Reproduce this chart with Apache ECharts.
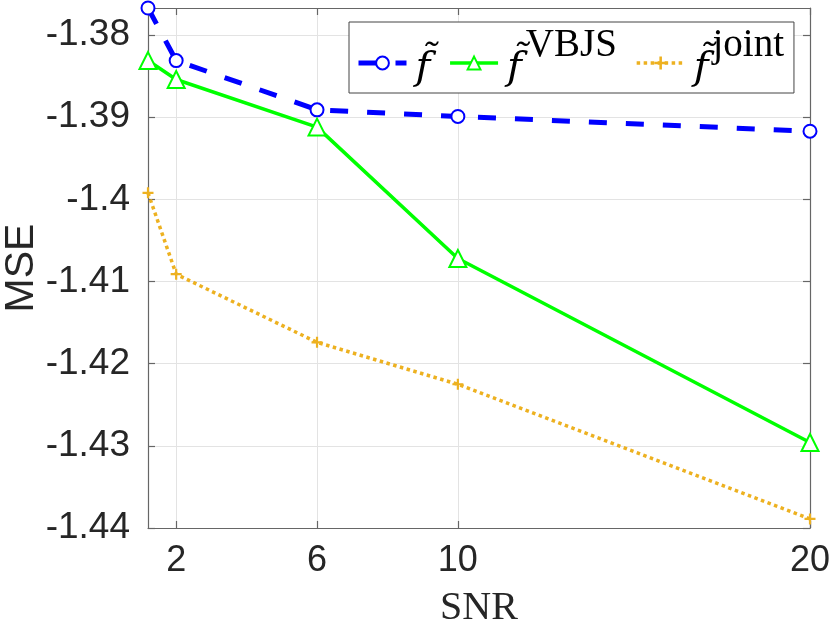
<!DOCTYPE html>
<html>
<head>
<meta charset="utf-8">
<script src="https://cdn.jsdelivr.net/npm/echarts@6/dist/echarts.min.js"></script>
<style>html,body{margin:0;padding:0;background:#fff}#c{width:830px;height:625px}</style>
</head>
<body>
<div id="c"></div>
<script>
const snr = [1.2, 2, 6, 10, 20];
const mseF = [-1.3767, -1.3831, -1.3891, -1.3899, -1.3917];
const mseVBJS = [-1.3831, -1.3854, -1.3912, -1.4072, -1.4296];
const mseJoint = [-1.3992, -1.4091, -1.4174, -1.4225, -1.4389];
const xTicks = [2, 6, 10, 20];
const yTicks = [-1.44, -1.43, -1.42, -1.41, -1.40, -1.39, -1.38];

const pairs = ys => snr.map((x, i) => [x, ys[i]]);
const plusPath = 'path://M4,0H6V4H10V6H6V10H4V6H0V4H4Z';
const tickColor = '#262626';
const axisColor = '#666';
const tickFont = {fontFamily: 'Liberation Sans, Arial, sans-serif', fontSize: 36, color: tickColor};
const serif = 'Liberation Serif, DejaVu Serif, serif';

const chart = echarts.init(document.getElementById('c'));
chart.setOption({
  animation: false,
  backgroundColor: '#fff',
  grid: {left: 148, right: 20, top: 8, bottom: 97, containLabel: false, outerBoundsMode: 'none'},
  legend: {
    left: 349, top: 22,
    orient: 'horizontal',
    backgroundColor: '#fff',
    borderColor: '#444', borderWidth: 1,
    padding: [4, 10, 4, 7],
    itemGap: 18,
    itemWidth: 48, itemHeight: 16,
    data: [
      {name: 'f', lineStyle: {width: 5}},
      {name: 'fVBJS', lineStyle: {width: 3.5}},
      {name: 'fjoint', lineStyle: {width: 3.5}}
    ],
    formatter: function (name) {
      if (name === 'f') return '{f|f\u0303}';
      if (name === 'fVBJS') return '{f|f\u0303}{sup|VBJS}';
      return '{f|f\u0303}{sup|joint}';
    },
    textStyle: {
      rich: {
        f: {fontFamily: 'DejaVu Serif, serif', fontStyle: 'italic', fontSize: 40, color: '#000', lineHeight: 52, padding: [0, 0, 0, 4], verticalAlign: 'bottom'},
        sup: {fontFamily: serif, fontSize: 39, color: '#000', lineHeight: 28, padding: [0, 0, 24, 4], verticalAlign: 'bottom'}
      }
    }
  },
  xAxis: [{
    type: 'value', min: 1.2, max: 20,
    name: 'SNR', nameLocation: 'middle', nameGap: 60, nameMoveOverlap: false,
    nameTextStyle: {fontFamily: serif, fontSize: 40, color: tickColor},
    axisLine: {show: true, onZero: false, lineStyle: {color: axisColor, width: 1.2}},
    axisTick: {show: true, inside: true, length: 7, customValues: xTicks, lineStyle: {color: axisColor, width: 1.2}},
    axisLabel: Object.assign({margin: 15, customValues: xTicks}, tickFont),
    splitLine: {show: true, lineStyle: {color: '#e3e3e3', width: 1}}
  }, {
    type: 'value', min: 1.2, max: 20, position: 'top',
    axisLine: {show: true, onZero: false, lineStyle: {color: axisColor, width: 1.2}},
    axisTick: {show: true, inside: true, length: 7, customValues: xTicks, lineStyle: {color: axisColor, width: 1.2}},
    axisLabel: {show: false},
    splitLine: {show: false}
  }],
  yAxis: [{
    type: 'value', min: -1.44, max: -1.3767,
    name: 'MSE', nameLocation: 'middle', nameGap: 106, nameMoveOverlap: false,
    nameTextStyle: {fontFamily: 'Liberation Sans, Arial, sans-serif', fontSize: 41, color: tickColor},
    axisLine: {show: true, onZero: false, lineStyle: {color: axisColor, width: 1.2}},
    axisTick: {show: true, inside: true, length: 7, customValues: yTicks, lineStyle: {color: axisColor, width: 1.2}},
    axisLabel: Object.assign({margin: 18, customValues: yTicks, formatter: v => String(parseFloat(v.toFixed(2)))}, tickFont, {fontSize: 37}),
    splitLine: {show: true, lineStyle: {color: '#e3e3e3', width: 1}}
  }, {
    type: 'value', min: -1.44, max: -1.3767, position: 'right',
    axisLine: {show: true, onZero: false, lineStyle: {color: axisColor, width: 1.2}},
    axisTick: {show: true, inside: true, length: 7, customValues: yTicks, lineStyle: {color: axisColor, width: 1.2}},
    axisLabel: {show: false},
    splitLine: {show: false}
  }],
  series: [{
    name: 'f', type: 'line', data: pairs(mseF), clip: false,
    symbol: 'emptyCircle', symbolSize: 13,
    itemStyle: {color: '#0000ff', borderWidth: 3.5},
    lineStyle: {color: '#0000ff', width: 5, type: [18, 19]}
  }, {
    name: 'fVBJS', type: 'line', data: pairs(mseVBJS), clip: false,
    symbol: 'emptyTriangle', symbolSize: 17,
    itemStyle: {color: '#00ff00', borderWidth: 3},
    lineStyle: {color: '#00ff00', width: 3.5}
  }, {
    name: 'fjoint', type: 'line', data: pairs(mseJoint), clip: false,
    symbol: plusPath, symbolSize: 11,
    itemStyle: {color: '#EDB120'},
    lineStyle: {color: '#EDB120', width: 3.5, type: [3.5, 3.5]}
  }]
});
</script>
</body>
</html>
